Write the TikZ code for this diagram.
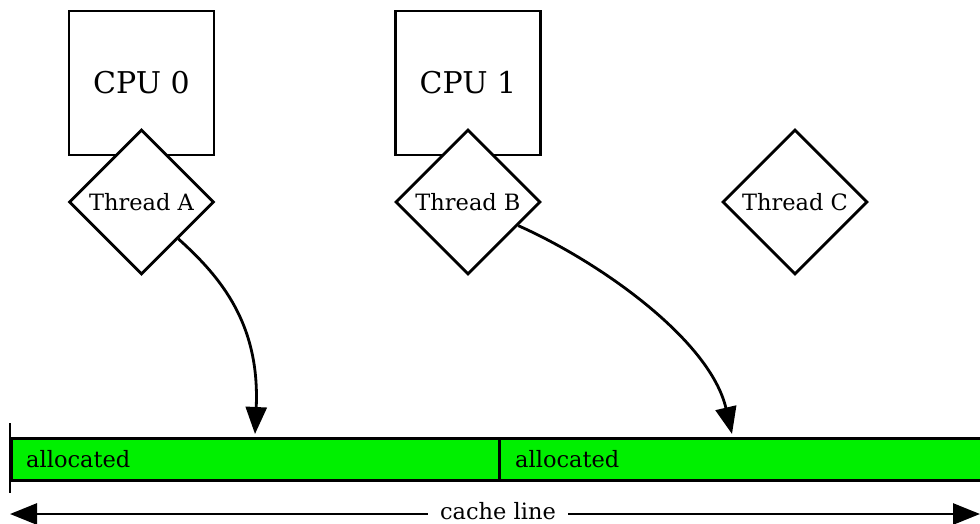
\documentclass[tikz,border=0pt]{standalone}
\usepackage{fontspec}
\setmainfont{DejaVu Serif}
\usetikzlibrary{shapes.geometric,arrows.meta,calc}
\definecolor{allocgreen}{RGB}{0,240,0}
\tikzset{
  cpubox/.style={draw=black, line width=2.8pt, rectangle, minimum width=145pt, minimum height=144pt, inner sep=0pt, font=\fontsize{30}{36}\selectfont},
  thread/.style={draw=black, fill=white, line width=2.8pt, diamond, minimum size=145pt, inner sep=0pt, font=\fontsize{22.5}{27}\selectfont},
  cell/.style={draw=black, fill=allocgreen, line width=2.8pt, rectangle, minimum height=42pt, inner sep=0pt, anchor=north west},
  celltext/.style={anchor=west, inner sep=0pt, font=\fontsize{22.5}{27}\selectfont},
  conn/.style={line width=2.8pt, -{Triangle[length=27pt,width=21pt]}},
}
\begin{document}
\begin{tikzpicture}[x=1pt,y=-1pt]
\clip (0,0) rectangle (980,523);
\fill[white] (0,0) rectangle (980,523);
% CPUs
\node[cpubox] (cpu0) at (141.5,83) {CPU 0};
\node[cpubox] (cpu1) at (468,83) {CPU 1};
% threads
\node[thread] (tA) at (141.5,202) {Thread A};
\node[thread] (tB) at (468,202) {Thread B};
\node[thread] (tC) at (795,202) {Thread C};
% cache line cells
\node[cell, minimum width=488pt] (c1) at (10,437) {};
\node[cell, minimum width=520pt] (c2) at (498,437) {};
\node[celltext] (l1) at ($(c1.west)+(16,0)$) {allocated};
\node[celltext] (l2) at ($(c2.west)+(17,0)$) {allocated};
\coordinate (edgeT) at (10,423);
\coordinate (edgeB) at (10,493);
\draw[line width=2.8pt] (edgeT) -- (edgeB);
% targets
\coordinate (ta) at (255,434);
\coordinate (tb) at (732,434);
\draw[conn] (tA.south east) .. controls (222,278) and (260,325) .. (ta);
\draw[conn] ($(tB.east)!0.32!(tB.south)$) .. controls (600,262) and (710,340) .. (tb);
% cache line
\node[inner sep=12pt, anchor=base, font=\fontsize{22.5}{27}\selectfont] (cl) at (498,519) {cache line};
\coordinate (clL) at (10,514);
\coordinate (clR) at (980,514);
\draw[conn] (cl.west |- clL) -- (clL);
\draw[conn] (cl.east |- clR) -- (clR);
\end{tikzpicture}
\end{document}
